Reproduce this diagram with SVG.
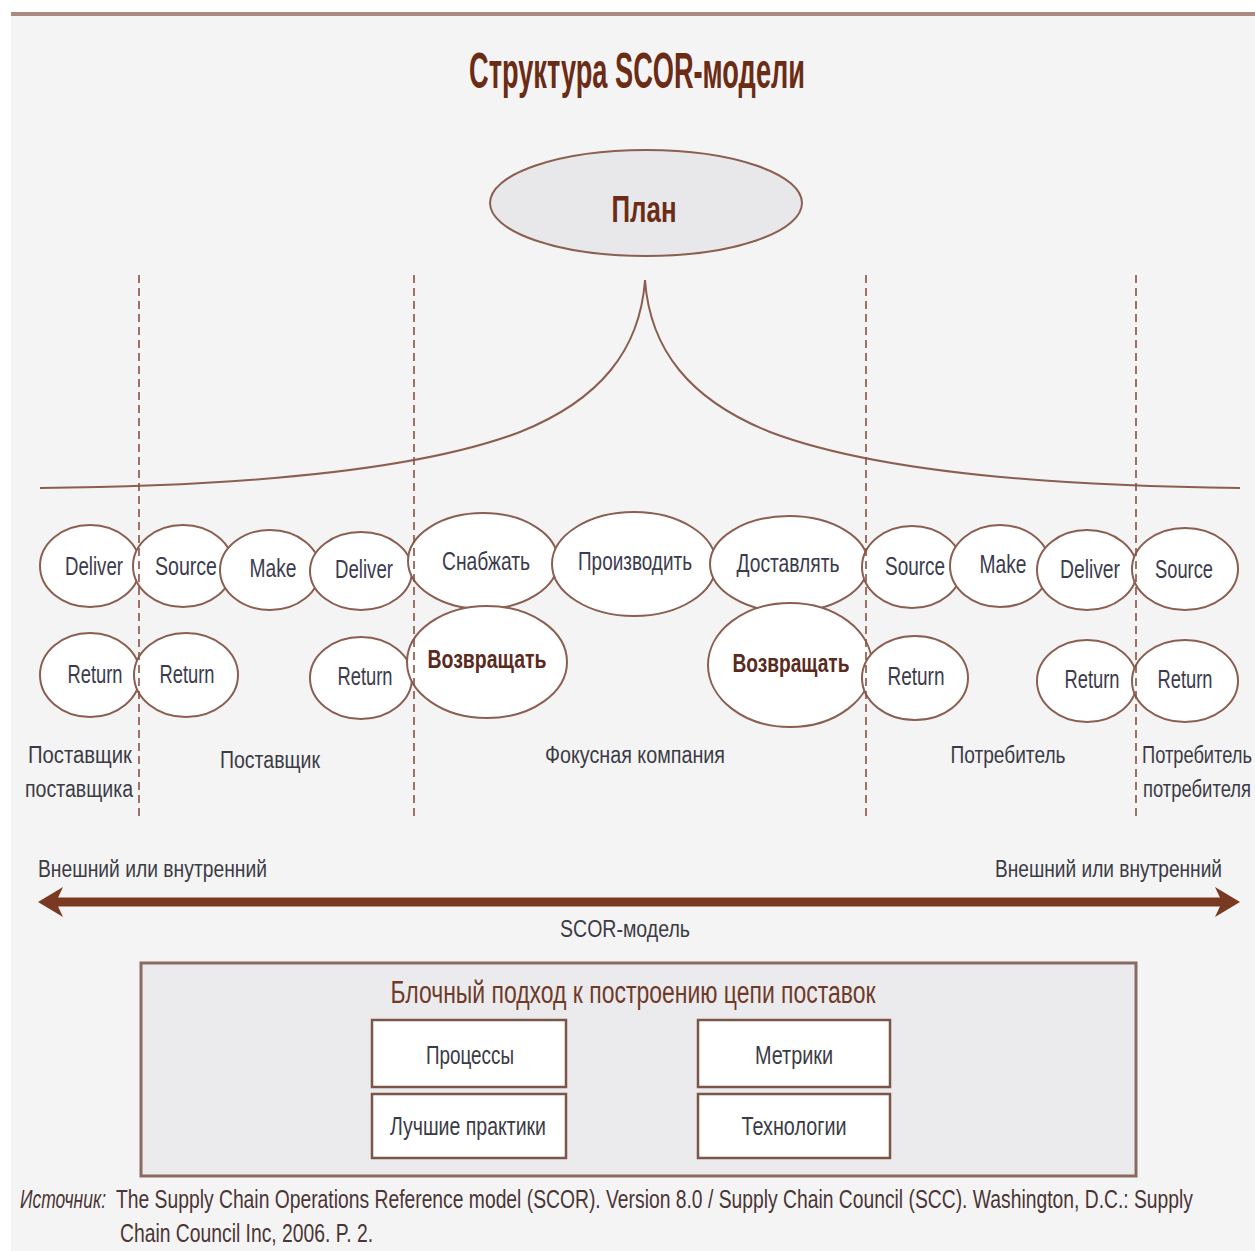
<svg xmlns="http://www.w3.org/2000/svg" width="1255" height="1251" viewBox="0 0 1255 1251">
  <style>
    text { font-family: "Liberation Sans", Arial, sans-serif; }
    .title { font-size: 50px; font-weight: bold; fill: #6b2c16; text-anchor: middle; }
    .plan { font-size: 36px; font-weight: bold; fill: #6b2c16; text-anchor: middle; }
    .node ellipse { fill: #ffffff; stroke: #8a5e50; stroke-width: 2; }
    .lbl { font-size: 26px; fill: #3b3b4d; text-anchor: middle; }
    .bold { font-size: 25px; font-weight: bold; fill: #5b2a1e; text-anchor: middle; }
    .zone { font-size: 23px; fill: #3b3b45; }
    .mid { text-anchor: middle; }
    .guide { fill: none; stroke: #8a5040; stroke-width: 1.6; stroke-dasharray: 8 5; }
    .cusp { fill: none; stroke: #8a5e50; stroke-width: 2; }
    .box { fill: #ffffff; stroke: #7a5548; stroke-width: 2.5; }
    .boxtxt { font-size: 25px; fill: #3b3b45; text-anchor: middle; }
    .foot { font-size: 25px; fill: #4b3535; }
  </style>

  <!-- page -->
  <rect x="0" y="0" width="1255" height="1251" fill="#ffffff"/>
  <rect x="11" y="15" width="1244" height="1236" fill="#f4f4f4"/>
  <line x1="11" y1="14" x2="1255" y2="14" stroke="#a88a80" stroke-width="4"/>

  <text class="title" x="637" y="88" textLength="336" lengthAdjust="spacingAndGlyphs">Структура SCOR-модели</text>

  <!-- plan -->
  <g id="plan">
    <ellipse cx="646" cy="203" rx="156" ry="53" fill="#e8e8ea" stroke="#8a5e50" stroke-width="2"/>
    <text class="plan" x="644" y="222" textLength="65" lengthAdjust="spacingAndGlyphs">План</text>
  </g>

  <!-- process nodes, top row -->
  <g id="n-deliver-1" class="node"><ellipse cx="90" cy="566" rx="50" ry="41"/><text class="lbl" x="94" y="575" textLength="58" lengthAdjust="spacingAndGlyphs">Deliver</text></g>
  <g id="n-source-1" class="node"><ellipse cx="183" cy="566" rx="50" ry="41"/><text class="lbl" x="186" y="575" textLength="62" lengthAdjust="spacingAndGlyphs">Source</text></g>
  <g id="n-make-1" class="node"><ellipse cx="270" cy="570" rx="50" ry="40"/><text class="lbl" x="273" y="577" textLength="47" lengthAdjust="spacingAndGlyphs">Make</text></g>
  <g id="n-deliver-2" class="node"><ellipse cx="361" cy="571" rx="51" ry="39"/><text class="lbl" x="364" y="578" textLength="58" lengthAdjust="spacingAndGlyphs">Deliver</text></g>
  <g id="n-snab" class="node"><ellipse cx="483" cy="561" rx="75" ry="48"/><text class="lbl" x="486" y="570" textLength="88" lengthAdjust="spacingAndGlyphs">Снабжать</text></g>
  <g id="n-proizv" class="node"><ellipse cx="634" cy="564" rx="82" ry="52"/><text class="lbl" x="635" y="570" textLength="114" lengthAdjust="spacingAndGlyphs">Производить</text></g>
  <g id="n-dostav" class="node"><ellipse cx="789" cy="564" rx="79" ry="48"/><text class="lbl" x="788" y="572" textLength="103" lengthAdjust="spacingAndGlyphs">Доставлять</text></g>

  <!-- process nodes, bottom row (left and focal) -->
  <g id="n-return-1" class="node"><ellipse cx="90" cy="675" rx="50" ry="42"/><text class="lbl" x="95" y="683" textLength="55" lengthAdjust="spacingAndGlyphs">Return</text></g>
  <g id="n-return-2" class="node"><ellipse cx="186" cy="675" rx="52" ry="42"/><text class="lbl" x="187" y="683" textLength="55" lengthAdjust="spacingAndGlyphs">Return</text></g>
  <g id="n-return-3" class="node"><ellipse cx="361" cy="678" rx="51" ry="41"/><text class="lbl" x="365" y="685" textLength="55" lengthAdjust="spacingAndGlyphs">Return</text></g>
  <g id="n-vozvr-1" class="node"><ellipse cx="487" cy="662" rx="80" ry="56"/><text class="bold" x="487" y="668" textLength="119" lengthAdjust="spacingAndGlyphs">Возвращать</text></g>
  <g id="n-vozvr-2" class="node"><ellipse cx="790" cy="665" rx="82" ry="62"/><text class="bold" x="791" y="672" textLength="117" lengthAdjust="spacingAndGlyphs">Возвращать</text></g>

  <!-- process nodes, right side -->
  <g id="n-source-2" class="node"><ellipse cx="912" cy="567" rx="50" ry="41"/><text class="lbl" x="915" y="575" textLength="60" lengthAdjust="spacingAndGlyphs">Source</text></g>
  <g id="n-make-2" class="node"><ellipse cx="1000" cy="566" rx="50" ry="41"/><text class="lbl" x="1003" y="573" textLength="47" lengthAdjust="spacingAndGlyphs">Make</text></g>
  <g id="n-deliver-3" class="node"><ellipse cx="1087" cy="570" rx="50" ry="40"/><text class="lbl" x="1090" y="578" textLength="60" lengthAdjust="spacingAndGlyphs">Deliver</text></g>
  <g id="n-source-3" class="node"><ellipse cx="1185" cy="569" rx="53" ry="41"/><text class="lbl" x="1184" y="578" textLength="58" lengthAdjust="spacingAndGlyphs">Source</text></g>
  <g id="n-return-4" class="node"><ellipse cx="915" cy="678" rx="53" ry="42"/><text class="lbl" x="916" y="685" textLength="57" lengthAdjust="spacingAndGlyphs">Return</text></g>
  <g id="n-return-5" class="node"><ellipse cx="1087" cy="681" rx="50" ry="41"/><text class="lbl" x="1092" y="688" textLength="55" lengthAdjust="spacingAndGlyphs">Return</text></g>
  <g id="n-return-6" class="node"><ellipse cx="1185" cy="681" rx="53" ry="41"/><text class="lbl" x="1185" y="688" textLength="55" lengthAdjust="spacingAndGlyphs">Return</text></g>

  <!-- connectors: plan spread curve, zone boundaries, scope arrow -->
  <g id="connectors">
    <path class="cusp" d="M40,488 C250,486 420,470 520,432 C600,400 640,350 645,280 C650,350 690,400 770,432 C870,470 1040,486 1240,488"/>
    <line class="guide" x1="139" y1="275" x2="139" y2="817"/>
    <line class="guide" x1="414" y1="275" x2="414" y2="817"/>
    <line class="guide" x1="866" y1="275" x2="866" y2="817"/>
    <line class="guide" x1="1136" y1="275" x2="1136" y2="817"/>
    <g id="scope-arrow" fill="#7a3a22">
      <rect x="54" y="897.5" width="1170" height="9"/>
      <polygon points="38,902 63,887 56,902 63,917"/>
      <polygon points="1240,902 1215,887 1222,902 1215,917"/>
    </g>
  </g>

  <!-- zone captions -->
  <g id="zones">
    <text class="zone mid" x="80" y="763" textLength="104" lengthAdjust="spacingAndGlyphs">Поставщик</text>
    <text class="zone mid" x="79" y="797" textLength="108" lengthAdjust="spacingAndGlyphs">поставщика</text>
    <text class="zone mid" x="270" y="768" textLength="100" lengthAdjust="spacingAndGlyphs">Поставщик</text>
    <text class="zone mid" x="635" y="763" textLength="180" lengthAdjust="spacingAndGlyphs">Фокусная компания</text>
    <text class="zone mid" x="1008" y="763" textLength="115" lengthAdjust="spacingAndGlyphs">Потребитель</text>
    <text class="zone" x="1142" y="763" textLength="110" lengthAdjust="spacingAndGlyphs">Потребитель</text>
    <text class="zone" x="1143" y="797" textLength="108" lengthAdjust="spacingAndGlyphs">потребителя</text>
    <text class="zone" x="38" y="877" textLength="229" lengthAdjust="spacingAndGlyphs">Внешний или внутренний</text>
    <text class="zone" x="995" y="877" textLength="227" lengthAdjust="spacingAndGlyphs">Внешний или внутренний</text>
    <text class="zone mid" x="625" y="937" textLength="130" lengthAdjust="spacingAndGlyphs">SCOR-модель</text>
  </g>

  <!-- building-block panel -->
  <g id="blocks">
    <rect x="141" y="963" width="995" height="213" fill="#ebebed" stroke="#8a6a60" stroke-width="3"/>
    <text x="633" y="1003" font-size="31" fill="#6e3a2a" text-anchor="middle" textLength="485" lengthAdjust="spacingAndGlyphs">Блочный подход к построению цепи поставок</text>
    <g id="b-processes"><rect class="box" x="372" y="1020" width="194" height="67"/><text class="boxtxt" x="470" y="1064" textLength="88" lengthAdjust="spacingAndGlyphs">Процессы</text></g>
    <g id="b-metrics"><rect class="box" x="698" y="1020" width="192" height="67"/><text class="boxtxt" x="794" y="1064" textLength="78" lengthAdjust="spacingAndGlyphs">Метрики</text></g>
    <g id="b-practices"><rect class="box" x="372" y="1094" width="194" height="64"/><text class="boxtxt" x="468" y="1135" textLength="156" lengthAdjust="spacingAndGlyphs">Лучшие практики</text></g>
    <g id="b-tech"><rect class="box" x="698" y="1094" width="192" height="64"/><text class="boxtxt" x="794" y="1135" textLength="105" lengthAdjust="spacingAndGlyphs">Технологии</text></g>
  </g>

  <!-- source note -->
  <g id="source-note">
    <text class="foot" x="20" y="1208" font-style="italic" textLength="86" lengthAdjust="spacingAndGlyphs">Источник:</text>
    <text class="foot" x="116" y="1208" textLength="1077" lengthAdjust="spacingAndGlyphs">The Supply Chain Operations Reference model (SCOR). Version 8.0 / Supply Chain Council (SCC). Washington, D.C.: Supply</text>
    <text class="foot" x="120" y="1242" textLength="253" lengthAdjust="spacingAndGlyphs">Chain Council Inc, 2006. P. 2.</text>
  </g>
</svg>
